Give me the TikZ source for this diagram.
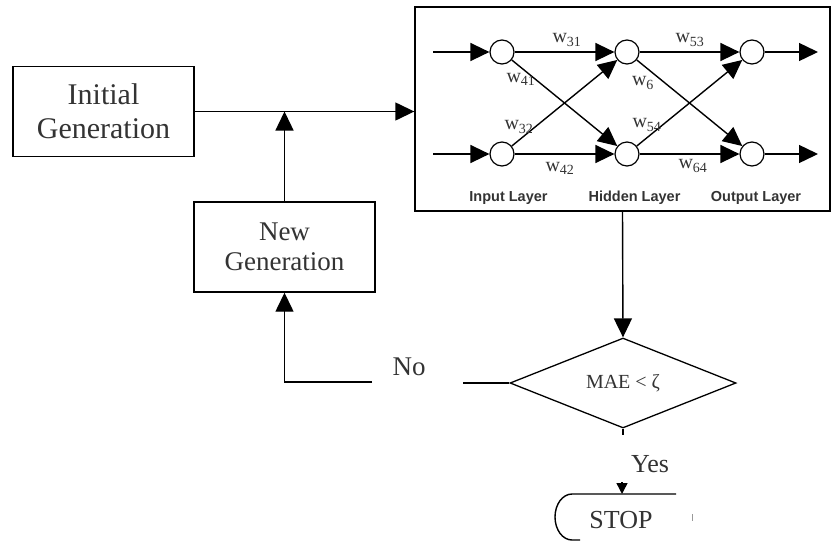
\documentclass[tikz,border=0pt]{standalone}
\usepackage{fontspec}
\setmainfont{Liberation Serif}
\newfontfamily\labfont{Liberation Sans}
\usetikzlibrary{arrows.meta,shapes.geometric}
\begin{document}
\begin{tikzpicture}[x=1pt,y=-1pt,
  line width=1.4pt,
  txt/.style={text=black!80, inner sep=0pt},
  box/.style={draw, line width=1.4pt, minimum width=181pt, minimum height=90pt, inner sep=0pt, align=center, text=black!80},
  neuron/.style={draw, circle, line width=1.2pt, minimum size=24pt, inner sep=0pt},
  arr/.style={-{Triangle[length=19pt,width=18pt]}},
  smallarr/.style={-{Triangle[length=11pt,width=11pt]}},
  wlab/.style={txt, font=\fontsize{20}{22}\selectfont},
  layer/.style={txt, font=\labfont\bfseries\fontsize{14.5}{16}\selectfont}
]
\useasboundingbox (0,0) rectangle (832,541);

% flow boxes
\node[box, font=\fontsize{30}{34}\selectfont] (init) at (103.5,111.5) {Initial\\Generation};
\node[box, font=\fontsize{27}{30}\selectfont] (ng) at (284.5,247) {New\\Generation};
\node[draw, line width=1.4pt, minimum width=415pt, minimum height=204pt, inner sep=0pt] (nn) at (622.5,109) {};

% neurons
\node[neuron] (i1) at (502,52) {};
\node[neuron] (i2) at (502,154) {};
\node[neuron] (h1) at (627,52) {};
\node[neuron] (h2) at (627,154) {};
\node[neuron] (o1) at (752,52) {};
\node[neuron] (o2) at (752,154) {};
\coordinate (in1) at (433,52);
\coordinate (in2) at (433,154);
\coordinate (out1) at (818,52);
\coordinate (out2) at (818,154);

\draw[arr] (in1) -- (i1);
\draw[arr] (in2) -- (i2);
\draw[arr] (i1) -- (h1);
\draw[arr] (i1) -- (h2);
\draw[arr] (i2) -- (h1);
\draw[arr] (i2) -- (h2);
\draw[arr] (h1) -- (o1);
\draw[arr] (h1) -- (o2);
\draw[arr] (h2) -- (o1);
\draw[arr] (h2) -- (o2);
\draw[arr] (o1) -- (out1);
\draw[arr] (o2) -- (out2);

% weights
\node[wlab] (w31) at (567,40) {w\textsubscript{31}};
\node[wlab] (w41) at (521,79) {w\textsubscript{41}};
\node[wlab] (w32) at (519,127) {w\textsubscript{32}};
\node[wlab] (w42) at (560,168) {w\textsubscript{42}};
\node[wlab] (w53) at (690,40) {w\textsubscript{53}};
\node[wlab] (w6) at (643,83) {w\textsubscript{6}};
\node[wlab] (w54) at (647,125) {w\textsubscript{54}};
\node[wlab] (w64) at (693,166) {w\textsubscript{64}};

% layer labels
\node[layer] (li) at (508.5,198) {Input Layer};
\node[layer] (lh) at (634.5,198) {Hidden Layer};
\node[layer] (lo) at (756,198) {Output Layer};

% decision
\node[draw, diamond, shape aspect=2.5, line width=1.3pt, minimum width=226pt, minimum height=90pt, inner sep=0pt, text=black!80, font=\fontsize{20}{22}\selectfont] (dia) at (623,383) {MAE < ζ};

% connectors
\draw[arr] (init.east) -- (init.east -| nn.west);
\draw[arr] (ng.north) -- (ng.north |- init.east);
\draw[arr] (nn.south) -- (dia.north);

\node[txt, font=\fontsize{27}{30}\selectfont, anchor=base] (no) at (409,375) {No};
\coordinate (noend) at (463,383);
\coordinate (nocorner) at (284.5,382);
\coordinate (noleft) at (372,382);
\draw (noend) -- (dia.west);
\draw[arr] (noleft) -- (nocorner) -- (ng.south);

\coordinate (yesend) at (623,435);
\draw (dia.south) -- (yesend);
\node[txt, font=\fontsize{26}{30}\selectfont, anchor=base] (yes) at (650,472) {Yes};
\coordinate (yesarr) at (622,482);
\coordinate (stoptop) at (622,494);
\draw[smallarr] (yesarr) -- (stoptop);

% terminal (partially shown)
\draw (676,494) -- (572,494) .. controls (562.6,494) and (555,504.3) .. (555,517)
      .. controls (555,529.7) and (562.6,540) .. (572,540) -- (580,540);
\node[txt, font=\fontsize{26}{30}\selectfont, anchor=base] (stop) at (621,528) {STOP};
\draw[black!40, line width=0.8pt] (692,514) -- (692,521);
\end{tikzpicture}
\end{document}
